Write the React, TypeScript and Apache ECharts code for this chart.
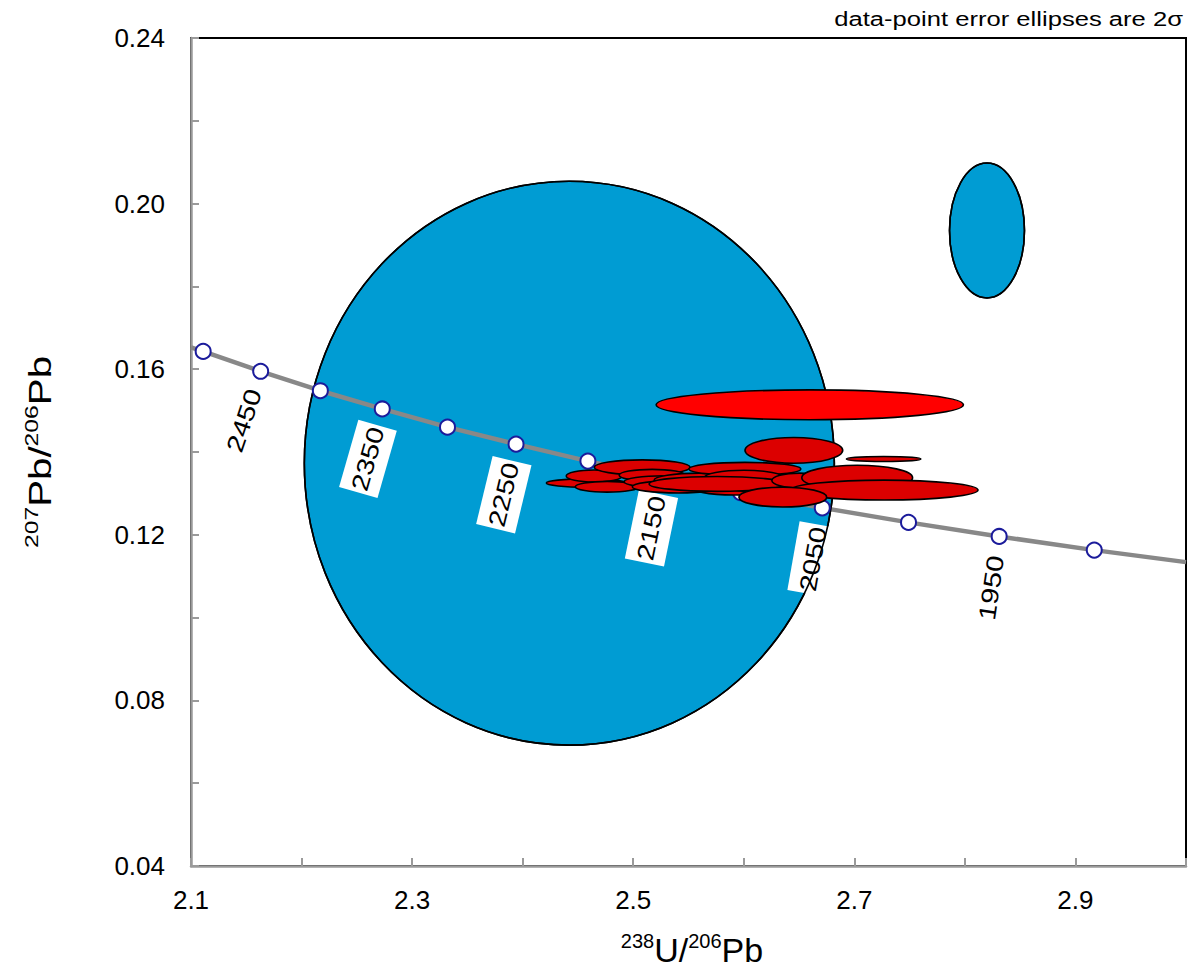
import React, { useEffect, useRef } from "react";
import * as echarts from "echarts";

// Concordia (age markers, Ma)
const concordiaAges = [2500, 2450, 2400, 2350, 2300, 2250, 2200, 2150, 2100, 2050, 2000, 1950, 1900];
const concordiaX = [2.111, 2.163, 2.217, 2.273, 2.332, 2.394, 2.459, 2.526, 2.597, 2.671, 2.749, 2.831, 2.917];
const concordiaY = [0.1643, 0.1595, 0.1548, 0.1504, 0.146, 0.1419, 0.1378, 0.1339, 0.1302, 0.1265, 0.123, 0.1196, 0.1163];
const curveStart = [2.1, 0.1653];
const curveEnd = [3.0, 0.1134];
const labelledAges = [2450, 2350, 2250, 2150, 2050, 1950];

// Error ellipses: [238U/206Pb, 207Pb/206Pb, 2σ x, 2σ y]
const blueEllipses = [
  [2.4422, 0.1373, 0.2397, 0.0681],
  [2.82, 0.1935, 0.0339, 0.0163],
];
const brightEllipses = [[2.6597, 0.1514, 0.139, 0.0036]];
const redEllipses = [
  [2.4575, 0.1325, 0.0361, 0.001],
  [2.4647, 0.1342, 0.0253, 0.00145],
  [2.5081, 0.1363, 0.0433, 0.0018],
  [2.5171, 0.1344, 0.0298, 0.0014],
  [2.4765, 0.1316, 0.0289, 0.0013],
  [2.5279, 0.1328, 0.0361, 0.00145],
  [2.5406, 0.1316, 0.0415, 0.0015],
  [2.5595, 0.1332, 0.0406, 0.0017],
  [2.5911, 0.1318, 0.0406, 0.0022],
  [2.601, 0.1359, 0.0506, 0.0016],
  [2.6001, 0.1337, 0.0361, 0.0019],
  [2.6137, 0.1318, 0.0316, 0.00145],
  [2.5758, 0.1323, 0.0614, 0.0018],
  [2.6502, 0.1331, 0.0248, 0.0018],
  [2.7026, 0.1338, 0.0501, 0.003],
  [2.727, 0.1308, 0.0849, 0.0024],
  [2.6353, 0.1291, 0.0397, 0.0024],
  [2.6453, 0.1404, 0.0442, 0.0031],
  [2.7265, 0.1383, 0.0337, 0.0006],
];

const xMin = 2.1, xMax = 3.0, xStep = 0.1;
const yMin = 0.04, yMax = 0.24, yStep = 0.02;

const FONT = "'Liberation Sans', Arial, sans-serif";
const GREY = "#9a9a9a";

function ellipseSeries(name: string, data: number[][], fill: string, z: number) {
  return {
    type: "custom",
    name,
    coordinateSystem: "cartesian2d",
    z,
    silent: true,
    data,
    renderItem: (_p: any, api: any) => {
      const cx = api.value(0), cy = api.value(1), sx = api.value(2), sy = api.value(3);
      const c = api.coord([cx, cy]);
      const r = api.coord([cx + sx, cy + sy]);
      return {
        type: "ellipse",
        shape: { cx: c[0], cy: c[1], rx: Math.abs(r[0] - c[0]), ry: Math.abs(r[1] - c[1]) },
        style: { fill, stroke: "#000", lineWidth: 1.6 },
      };
    },
  };
}

export default function App() {
  const ref = useRef<HTMLDivElement>(null);
  useEffect(() => {
    if (!ref.current) return;
    const chart = echarts.init(ref.current, null, { renderer: "svg" });
    const curve = [curveStart, ...concordiaX.map((x, i) => [x, concordiaY[i]]), curveEnd];
    const markers = concordiaX.map((x, i) => [x, concordiaY[i]]);
    const labelData = labelledAges.map((age) => {
      const i = concordiaAges.indexOf(age);
      return [concordiaX[i], concordiaY[i], age, i];
    });
    chart.setOption({
      animation: false,
      textStyle: { fontFamily: FONT },
      grid: { left: 191, top: 38, width: 997, height: 828, show: true, borderColor: "#000", borderWidth: 2, backgroundColor: "transparent" },
      xAxis: {
        type: "value",
        min: xMin,
        max: xMax,
        interval: xStep,
        axisLine: { lineStyle: { color: GREY, width: 2.5 } },
        axisTick: { inside: true, length: 8, lineStyle: { color: GREY, width: 2 } },
        splitLine: { show: false },
        axisLabel: {
          margin: 21,
          fontSize: 26,
          color: "#000",
          fontFamily: FONT,
          formatter: (v: number) => (Math.round(v * 10) % 2 === 1 && Math.round(v * 10) < 30 ? v.toFixed(1) : ""),
        },
      },
      yAxis: {
        type: "value",
        min: yMin,
        max: yMax,
        interval: yStep,
        axisLine: { lineStyle: { color: GREY, width: 2.5 } },
        axisTick: { inside: true, length: 8, lineStyle: { color: GREY, width: 2 } },
        splitLine: { show: false },
        axisLabel: {
          margin: 26,
          fontSize: 26,
          color: "#000",
          fontFamily: FONT,
          formatter: (v: number) => (Math.round(v * 100) % 4 === 0 ? v.toFixed(2) : ""),
        },
      },
      graphic: [
        {
          type: "text",
          x: 1183,
          y: 19,
          scaleX: 1.28,
          style: { text: "data-point error ellipses are 2σ", fontSize: 20, fontFamily: FONT, fill: "#000", align: "right", verticalAlign: "middle" },
        },
        {
          type: "text",
          x: 692,
          y: 950,
          style: {
            text: "{s|238}{m|U/}{s|206}{m|Pb}",
            align: "center",
            verticalAlign: "middle",
            fill: "#000",
            rich: {
              s: { fontSize: 20, lineHeight: 20, verticalAlign: "top", fontFamily: FONT, fill: "#000" },
              m: { fontSize: 34, lineHeight: 38, fontFamily: FONT, fill: "#000" },
            },
          },
        },
        {
          type: "text",
          x: 40,
          y: 452,
          rotation: Math.PI / 2,
          scaleX: 1.3,
          style: {
            text: "{s|207}{m|Pb/}{s|206}{m|Pb}",
            align: "center",
            verticalAlign: "middle",
            fill: "#000",
            rich: {
              s: { fontSize: 19, lineHeight: 19, verticalAlign: "top", fontFamily: FONT, fill: "#000" },
              m: { fontSize: 31, lineHeight: 35, fontFamily: FONT, fill: "#000" },
            },
          },
        },
      ],
      series: [
        ellipseSeries("blue", blueEllipses, "#009cd3", 1),
        {
          type: "line",
          data: curve,
          smooth: false,
          showSymbol: false,
          silent: true,
          z: 2,
          lineStyle: { color: "#888888", width: 4.5 },
        },
        {
          type: "custom",
          coordinateSystem: "cartesian2d",
          z: 3,
          silent: true,
          data: labelData,
          renderItem: (_p: any, api: any) => {
            const i = api.value(3);
            const p = api.coord([api.value(0), api.value(1)]);
            const a = api.coord([concordiaX[i - 1], concordiaY[i - 1]]);
            const b = api.coord([concordiaX[i + 1], concordiaY[i + 1]]);
            const alpha = Math.atan2(b[1] - a[1], b[0] - a[0]);
            const off = 52;
            return {
              type: "text",
              x: p[0] - off * Math.sin(alpha),
              y: p[1] + off * Math.cos(alpha),
              rotation: Math.PI / 2 - alpha,
              scaleX: 1.22,
              style: {
                text: String(api.value(2)),
                fontSize: 24,
                fontFamily: FONT,
                fill: "#000",
                backgroundColor: "#fff",
                padding: [8, 2],
                align: "center",
                verticalAlign: "middle",
              },
            };
          },
        },
        {
          type: "custom",
          coordinateSystem: "cartesian2d",
          z: 4,
          silent: true,
          data: blueEllipses,
          renderItem: (_p: any, api: any) => {
            const cx = api.value(0), cy = api.value(1), sx = api.value(2), sy = api.value(3);
            const c = api.coord([cx, cy]);
            const r = api.coord([cx + sx, cy + sy]);
            return {
              type: "ellipse",
              shape: { cx: c[0], cy: c[1], rx: Math.abs(r[0] - c[0]), ry: Math.abs(r[1] - c[1]) },
              style: { fill: "none", stroke: "#000", lineWidth: 1.6 },
            };
          },
        },
        {
          type: "scatter",
          data: markers,
          symbol: "circle",
          symbolSize: 15,
          z: 5,
          silent: true,
          itemStyle: { color: "#ffffff", borderColor: "#1b1b9b", borderWidth: 2, opacity: 1 },
        },
        ellipseSeries("bright", brightEllipses, "#ff0000", 6),
        ellipseSeries("red", redEllipses, "#dc0000", 6),
      ],
    });
    return () => chart.dispose();
  }, []);
  return <div ref={ref} style={{ position: "absolute", left: 0, top: 0, width: 1189, height: 976 }} />;
}
